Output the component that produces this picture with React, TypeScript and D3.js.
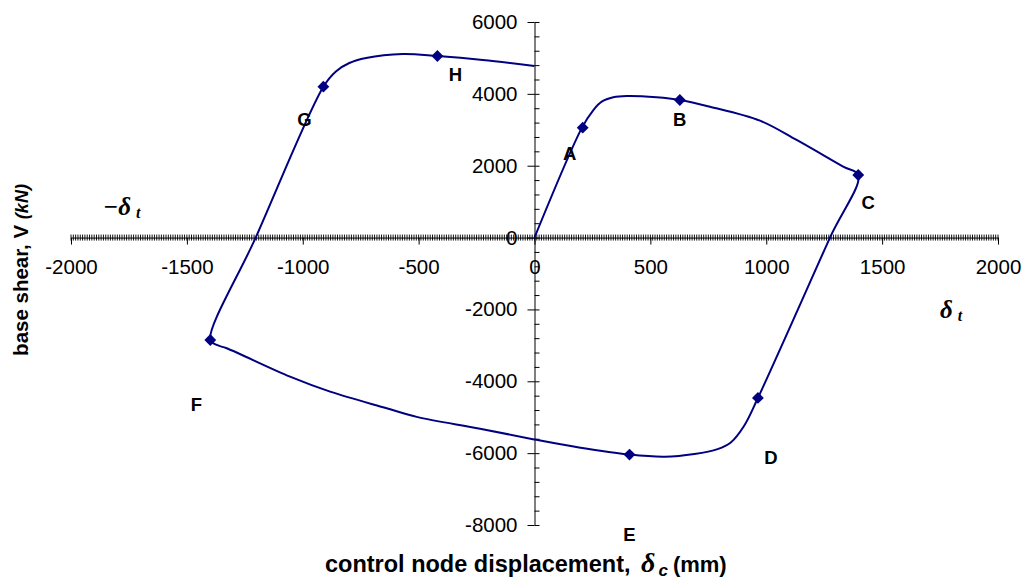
import { useEffect, useRef } from 'react';
import * as d3 from 'd3';

// hysteresis loop (mm, kN)
const dispMm = [0, 205, 254, 290, 340, 398, 527, 627, 757, 973, 1131, 1332, 1397, 1275, 964, 904, 847, 790, 690, 562, 410, 192, -7, -235, -508, -638, -882, -1055, -1328, -1371, -1399, -1203, -911, -857, -799, -727, -569, -419, -223, 0];
const shearKn = [0, 3060, 3550, 3783, 3905, 3941, 3905, 3830, 3643, 3254, 2716, 1973, 1742, 0, -4464, -5244, -5703, -5887, -6023, -6098, -6040, -5842, -5611, -5320, -4990, -4751, -4289, -3872, -3082, -2989, -2850, 0, 4200, 4625, 4858, 4997, 5108, 5053, 4944, 4775];

// marked states
const pointLabels = ['A', 'B', 'C', 'D', 'E', 'F', 'G', 'H'];
const pointDisp = [208, 627, 1397, 964, 410, -1399, -911, -419];
const pointShear = [3059, 3830, 1742, -4464, -6040, -2850, 4200, 5053];
const labelDx = [-13, 0, 10, 13, 0, -14, -19, 18];
const labelDy = [26, 20, 28, 60, 80, 65, 33, 18];

const xTicks = [-2000, -1500, -1000, -500, 0, 500, 1000, 1500, 2000];
const yTicks = [-8000, -6000, -4000, -2000, 0, 2000, 4000, 6000];

const SANS = '"Liberation Sans", Arial, sans-serif';
const SERIF = '"Liberation Serif", "Times New Roman", serif';
const NAVY = '#000080';

export default function App() {
  const ref = useRef<SVGSVGElement>(null);

  useEffect(() => {
    const svg = d3.select(ref.current);
    svg.selectAll('*').remove();

    const x = d3.scaleLinear().domain([-2000, 2000]).range([71, 998]);
    const y = d3.scaleLinear().domain([-8000, 6000]).range([525, 22]);

    // y axis: major ticks crossing, minor ticks on the right
    const gy = svg.append('g').attr('transform', `translate(${x(0)},0)`);
    gy.call(
      d3.axisLeft(y).tickValues(yTicks).tickSize(7).tickSizeOuter(0).tickPadding(10)
        .tickFormat((d) => String(d))
    );
    gy.attr('font-size', 20.5).attr('font-family', SANS);
    const gyMinor = svg.append('g').attr('transform', `translate(${x(0)},0)`);
    gyMinor.call(
      d3.axisRight(y).tickValues(d3.range(-8000, 6001, 400)).tickSize(5).tickSizeOuter(0)
        .tickFormat(() => '')
    );
    gyMinor.select('.domain').remove();

    // x axis with dense minor hatch
    const gxMinor = svg.append('g').attr('transform', `translate(0,${y(0)})`);
    gxMinor.selectAll('line').data(d3.range(-2000, 2001, 10)).join('line')
      .attr('x1', (d) => x(d)).attr('x2', (d) => x(d))
      .attr('y1', -3).attr('y2', 3)
      .attr('stroke', '#111').attr('stroke-width', 1);
    const gx = svg.append('g').attr('transform', `translate(0,${y(0)})`);
    gx.call(
      d3.axisBottom(x).tickValues(xTicks).tickSize(7).tickSizeOuter(0).tickPadding(15)
        .tickFormat((d) => String(d))
    );
    gx.attr('font-size', 20.5).attr('font-family', SANS);

    // loop
    const line = d3.line<number>()
      .x((i) => x(dispMm[i]))
      .y((i) => y(shearKn[i]))
      .curve(d3.curveCatmullRom.alpha(0.5));
    svg.append('path')
      .attr('d', line(d3.range(dispMm.length)))
      .attr('fill', 'none')
      .attr('stroke', NAVY)
      .attr('stroke-width', 2);

    // diamonds
    svg.selectAll('.mk').data(pointLabels).join('path')
      .attr('class', 'mk')
      .attr('d', d3.symbol(d3.symbolSquare, 70)())
      .attr('transform', (_, i) => `translate(${x(pointDisp[i])},${y(pointShear[i])}) rotate(45)`)
      .attr('fill', NAVY);

    svg.selectAll('.lbl').data(pointLabels).join('text')
      .attr('class', 'lbl')
      .attr('x', (_, i) => x(pointDisp[i]) + labelDx[i])
      .attr('y', (_, i) => y(pointShear[i]) + labelDy[i])
      .attr('text-anchor', 'middle')
      .attr('dominant-baseline', 'central')
      .attr('font-family', SANS)
      .attr('font-weight', 'bold')
      .attr('font-size', 18.5)
      .text((d) => d);

    // target displacement marks
    const left = svg.append('text').attr('x', 103).attr('y', 215)
      .attr('font-family', SERIF).attr('font-weight', 'bold').attr('font-style', 'italic');
    left.append('tspan').attr('font-size', 25).text('\u2212\u03b4');
    left.append('tspan').attr('font-size', 16).attr('dx', 5).attr('dy', 3).text('t');

    const right = svg.append('text').attr('x', 940).attr('y', 318)
      .attr('font-family', SERIF).attr('font-weight', 'bold').attr('font-style', 'italic');
    right.append('tspan').attr('font-size', 25).text('\u03b4');
    right.append('tspan').attr('font-size', 16).attr('dx', 5).attr('dy', 3).text('t');

    // axis titles
    const yt = svg.append('text')
      .attr('transform', 'translate(27.5,270) rotate(-90)')
      .attr('text-anchor', 'middle')
      .attr('font-family', SANS).attr('font-weight', 'bold');
    yt.append('tspan').attr('font-size', 20.5).text('base shear, V ');
    yt.append('tspan').attr('font-size', 18).attr('font-style', 'italic').text('(kN)');

    const xt = svg.append('text').attr('x', 325).attr('y', 572)
      .attr('font-family', SANS).attr('font-weight', 'bold');
    xt.append('tspan').attr('font-size', 23.5).text('control node displacement, ');
    xt.append('tspan').attr('font-size', 28).attr('font-family', SERIF).attr('font-style', 'italic').attr('dx', 4).text('\u03b4');
    xt.append('tspan').attr('font-size', 17).attr('font-style', 'italic').attr('dx', 3).attr('dy', 4).text('c');
    xt.append('tspan').attr('font-size', 22).attr('dx', 5).attr('dy', -4).text('(mm)');
  }, []);

  return (
    <svg
      ref={ref}
      width={1023}
      height={580}
      style={{ position: 'absolute', left: 0, top: 0, background: '#fff' }}
    />
  );
}
